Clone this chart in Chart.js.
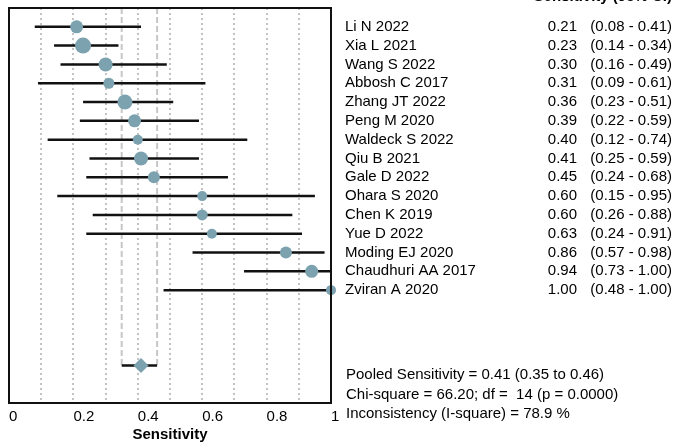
<!DOCTYPE html>
<html>
<head>
<meta charset="utf-8">
<script src="https://cdn.jsdelivr.net/npm/chart.js@4.4.1/dist/chart.umd.min.js"></script>
<style>
  html, body { margin: 0; padding: 0; background: #fff; }
  #wrap { width: 680px; height: 448px; position: relative; }
</style>
</head>
<body>
<div id="wrap"><canvas id="forest"></canvas></div>
<script>
// study rows, top to bottom
var studies = ["Li N 2022", "Xia L 2021", "Wang S 2022", "Abbosh C 2017", "Zhang JT 2022",
  "Peng M 2020", "Waldeck S 2022", "Qiu B 2021", "Gale D 2022", "Ohara S 2020",
  "Chen K 2019", "Yue D 2022", "Moding EJ 2020", "Chaudhuri AA 2017", "Zviran A 2020"];
var sens = [0.21, 0.23, 0.30, 0.31, 0.36, 0.39, 0.40, 0.41, 0.45, 0.60, 0.60, 0.63, 0.86, 0.94, 1.00];
var ciLow = [0.08, 0.14, 0.16, 0.09, 0.23, 0.22, 0.12, 0.25, 0.24, 0.15, 0.26, 0.24, 0.57, 0.73, 0.48];
var ciHigh = [0.41, 0.34, 0.49, 0.61, 0.51, 0.59, 0.74, 0.59, 0.68, 0.95, 0.88, 0.91, 0.98, 1.00, 1.00];
var weights = [6.5, 8, 7, 5.5, 7.5, 6.5, 5, 7, 6, 5, 5.5, 5, 6, 6.5, 5]; // marker radius

var pooled = 0.41, pooledLow = 0.35, pooledHigh = 0.46;
var pooledRow = 18;
var footer = [
  "Pooled Sensitivity = 0.41 (0.35 to 0.46)",
  "Chi-square = 66.20; df =  14 (p = 0.0000)",
  "Inconsistency (I-square) = 78.9 %"
];
var tickLabels = { 0: "0", 2: "0.2", 4: "0.4", 6: "0.6", 8: "0.8", 10: "1" };

var FONT = '"Liberation Sans", Arial, sans-serif';
var markColor = "rgb(124,162,176)";

var ciLines = [];
studies.forEach(function (s, i) {
  ciLines.push({ x: ciLow[i], y: i }, { x: ciHigh[i], y: i }, { x: null, y: null });
});

var forestText = {
  id: "forestText",
  afterDraw: function (chart) {
    var ctx = chart.ctx, a = chart.chartArea, y = chart.scales.y;
    ctx.save();
    ctx.strokeStyle = "#111";
    ctx.lineWidth = 2;
    ctx.strokeRect(a.left, a.top, a.right - a.left, a.bottom - a.top);

    ctx.fillStyle = "#000";
    ctx.font = "bold 15px " + FONT;
    ctx.textAlign = "right";
    ctx.textBaseline = "alphabetic";
    ctx.fillText("Sensitivity (95% CI)", 672, 1);

    ctx.font = "15px " + FONT;
    ctx.textBaseline = "middle";
    studies.forEach(function (s, i) {
      var py = y.getPixelForValue(i);
      ctx.textAlign = "left";
      ctx.fillText(s, 345, py);
      ctx.textAlign = "right";
      ctx.fillText(sens[i].toFixed(2), 577, py);
      ctx.fillText("(" + ciLow[i].toFixed(2) + " - " + ciHigh[i].toFixed(2) + ")", 672, py);
    });
    ctx.textAlign = "left";
    footer.forEach(function (t, k) {
      ctx.fillText(t, 346, 375 + k * 19.5);
    });
    ctx.restore();
  }
};

new Chart(document.getElementById("forest"), {
  type: "scatter",
  data: {
    datasets: [
      {
        data: sens.map(function (v, i) { return { x: v, y: i }; }),
        pointRadius: weights,
        pointHoverRadius: weights,
        pointBackgroundColor: markColor,
        pointBorderWidth: 0,
        clip: false,
        order: 0
      },
      {
        data: [{ x: pooled, y: pooledRow }],
        pointStyle: "rectRot",
        pointRadius: 7.5,
        pointBackgroundColor: markColor,
        pointBorderWidth: 0,
        order: 0
      },
      {
        data: ciLines,
        showLine: true,
        spanGaps: false,
        borderColor: "#111",
        borderWidth: 2.5,
        pointRadius: 0,
        clip: false,
        order: 1
      },
      {
        data: [{ x: pooledLow, y: pooledRow }, { x: pooledHigh, y: pooledRow }],
        showLine: true,
        borderColor: "#111",
        borderWidth: 2.5,
        pointRadius: 0,
        order: 1
      },
      {
        data: [{ x: pooledLow, y: -1 }, { x: pooledLow, y: pooledRow }, { x: null, y: null },
               { x: pooledHigh, y: -1 }, { x: pooledHigh, y: pooledRow }],
        showLine: true,
        spanGaps: false,
        borderColor: "#c6c6c6",
        borderWidth: 2,
        borderDash: [6, 3],
        pointRadius: 0,
        order: 2
      }
    ]
  },
  options: {
    responsive: true,
    maintainAspectRatio: false,
    animation: false,
    events: [],
    layout: { padding: { left: 9, right: 349, top: 4, bottom: 0 } },
    plugins: { legend: { display: false }, tooltip: { enabled: false } },
    scales: {
      x: {
        type: "linear",
        min: 0,
        max: 1,
        afterFit: function (s) { s.height = 45; },
        afterBuildTicks: function (s) {
          s.ticks = [0, 1, 2, 3, 4, 5, 6, 7, 8, 9, 10].map(function (k) { return { value: k / 10 }; });
        },
        ticks: {
          padding: 5,
          align: "start",
          color: "#000",
          font: { family: FONT, size: 15 },
          maxRotation: 0,
          autoSkip: false,
          callback: function (v) {
            var k = Math.round(v * 10);
            return tickLabels[k] !== undefined ? tickLabels[k] : "";
          }
        },
        grid: {
          drawTicks: false,
          lineWidth: 2,
          color: function (c) {
            var v = c.tick ? c.tick.value : 0;
            return (v <= 0.001 || v >= 0.999) ? "rgba(0,0,0,0)" : "#c3c3c3";
          }
        },
        border: { display: false, dash: [2, 3] },
        title: {
          display: true,
          text: "Sensitivity",
          color: "#000",
          font: { family: FONT, size: 15, weight: "bold" },
          padding: { top: 0, bottom: 4 }
        }
      },
      y: {
        type: "linear",
        min: -1,
        max: 20,
        reverse: true,
        display: false
      }
    }
  },
  plugins: [forestText]
});
</script>
</body>
</html>
